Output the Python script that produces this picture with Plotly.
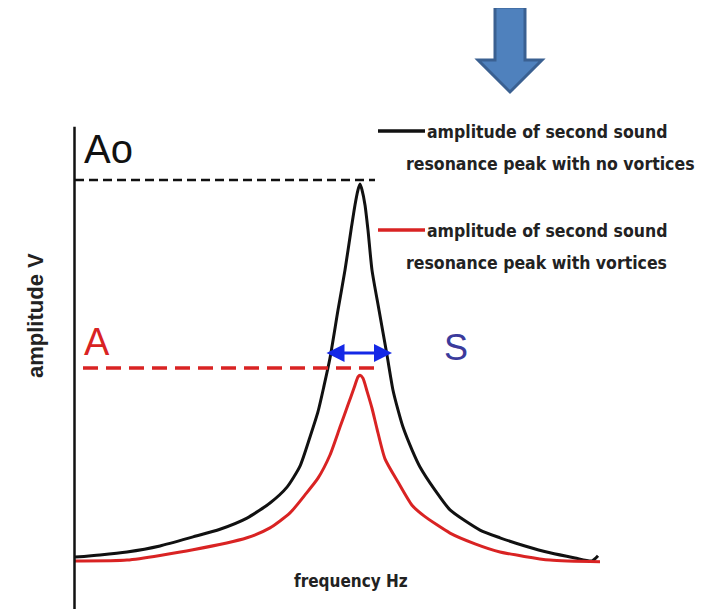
import plotly.graph_objects as go

# ---------------- data ----------------
# frequency (arbitrary units, 0 = amplitude axis) and amplitude (A0 = 100)
freq_no_vortices = [0.1, 2.6, 5.3, 8.6, 11.9, 14.6, 17.3, 19.6, 21.3, 22.6, 23.6, 24.4,
                    25.0, 25.6, 26.4, 27.1, 27.7, 28.1, 28.4, 28.6, 28.8, 29.1, 29.4,
                    29.8, 30.5, 31.3, 31.9, 32.4, 32.9, 33.8, 34.6, 36.1, 37.6, 40.6,
                    42.6, 45.1, 47.6, 50.1, 51.8, 52.4]
amp_no_vortices = [12.1, 12.6, 13.3, 14.7, 16.8, 18.6, 21.2, 24.7, 28.4, 33.3, 40.1, 46.0,
                   52.0, 58.5, 69.7, 79.0, 88.3, 94.2, 97.7, 99.1, 97.7, 94.2, 88.3,
                   79.0, 69.7, 59.2, 51.0, 46.4, 42.4, 37.1, 33.1, 27.7, 23.1, 18.4,
                   16.6, 14.7, 13.1, 11.9, 11.2, 12.4]

freq_vortices = [0.1, 5.3, 11.9, 17.3, 19.6, 21.6, 23.1, 24.4, 25.6, 26.6, 27.4, 28.0,
                 28.4, 28.6, 28.9, 29.3, 29.8, 30.3, 31.1, 32.4, 33.8, 35.0, 37.6, 40.1,
                 42.6, 47.6, 52.6]
amp_vortices = [11.2, 11.4, 13.8, 16.6, 18.9, 22.4, 26.6, 30.5, 35.9, 42.4, 47.6, 51.5,
                54.1, 54.5, 53.8, 50.8, 46.8, 42.0, 35.0, 29.6, 24.2, 21.7, 17.7, 15.2,
                13.3, 11.4, 11.0]

A0_level = 100.0          # peak amplitude, no vortices
A_level = 56.2            # peak amplitude, with vortices
A0_span = [0.1, 30.1]     # extent of the black dashed guide
A_span = [0.9, 30.3]      # extent of the red dashed guide
S_level = 59.7            # height of the width arrow
S_span = [25.1, 31.8]     # width of the black peak at that height
axis_top = 112.4

legend_lines_1 = ["amplitude of second sound", "resonance peak with no vortices"]
legend_lines_2 = ["amplitude of second sound", "resonance peak with vortices"]
x_title = "frequency Hz"
y_title = "amplitude V"

# ---------------- styling ----------------
OFF = 8                     # page body margin of the browser
W, H = 709 - OFF, 609 - OFF  # figure size so it fits the window
X_RANGE = [-6.6, 63.5]
Y_RANGE = [0, 140.1]
BLACK = "#111111"
RED = "#d92323"
BLUE = "#1428e6"
NAVY = "#3b3b9c"
NARROW = "Liberation Sans Narrow, Arial Narrow, DejaVu Sans Condensed, sans-serif"
ARIAL = "Liberation Sans, Arial, sans-serif"


def P(px, py):
    """reference-window pixel -> paper coordinates"""
    return (px - OFF) / W, 1 - (py - OFF) / H


fig = go.Figure()

fig.add_trace(go.Scatter(x=freq_no_vortices, y=amp_no_vortices, mode="lines",
                         line=dict(color=BLACK, width=3, shape="spline", smoothing=0.6),
                         hoverinfo="skip"))
fig.add_trace(go.Scatter(x=freq_vortices, y=amp_vortices, mode="lines",
                         line=dict(color=RED, width=3, shape="spline", smoothing=0.6),
                         hoverinfo="skip"))
fig.add_trace(go.Scatter(x=A0_span, y=[A0_level, A0_level], mode="lines",
                         line=dict(color=BLACK, width=2.5, dash="9px,5px"),
                         hoverinfo="skip"))
fig.add_trace(go.Scatter(x=A_span, y=[A_level, A_level], mode="lines",
                         line=dict(color=RED, width=3.5, dash="15px,8px"),
                         hoverinfo="skip"))
# amplitude axis
fig.add_trace(go.Scatter(x=[0.05, 0.05], y=[0, axis_top], mode="lines",
                         line=dict(color=BLACK, width=2.5), hoverinfo="skip"))

annotations = []
# width arrow S
annotations.append(dict(x=S_span[1], y=S_level, ax=S_span[0], ay=S_level,
                        xref="x", yref="y", axref="x", ayref="y", text="",
                        showarrow=True, arrowside="end+start", arrowhead=2,
                        arrowsize=1.2, arrowwidth=3, arrowcolor=BLUE))


def txt(px, py, text, size, color, family, xanchor="left", angle=0, bold=False):
    x, y = P(px, py)
    t = f"<b>{text}</b>" if bold else text
    annotations.append(dict(x=x, y=y, xref="paper", yref="paper", text=t,
                            showarrow=False, xanchor=xanchor, yanchor="middle",
                            textangle=angle,
                            font=dict(size=size, color=color, family=family)))


txt(82, 149, "Ao", 40, BLACK, ARIAL)
txt(82, 342, "A", 38, RED, ARIAL)
txt(442, 347, "S", 36, NAVY, ARIAL)
txt(425, 132, legend_lines_1[0], 17.5, "#222222", NARROW, bold=True)
txt(404, 164, legend_lines_1[1], 17.5, "#222222", NARROW, bold=True)
txt(425, 231, legend_lines_2[0], 17.5, "#222222", NARROW, bold=True)
txt(404, 263, legend_lines_2[1], 17.5, "#222222", NARROW, bold=True)
txt(351, 581, x_title, 17, "#222222", NARROW, xanchor="center", bold=True)
txt(35, 316, y_title, 22, "#222222", ARIAL, xanchor="center", angle=-90, bold=True)

shapes = []
# legend swatches
for (py, col) in [(131, BLACK), (230, RED)]:
    x0, y0 = P(378, py)
    x1, _ = P(425, py)
    shapes.append(dict(type="line", xref="paper", yref="paper", x0=x0, y0=y0, x1=x1, y1=y0,
                       line=dict(color=col, width=3.5)))

# big down arrow
pts = [(495, 7), (525, 7), (525, 60), (542, 60), (510, 92), (478, 60), (495, 60)]
path = "M " + " L ".join(f"{P(a, b)[0]:.5f},{P(a, b)[1]:.5f}" for a, b in pts) + " Z"
shapes.append(dict(type="path", xref="paper", yref="paper", path=path,
                   fillcolor="#4f81bd", line=dict(color="#3a6091", width=3)))

fig.update_layout(
    width=W, height=H, autosize=False,
    margin=dict(l=0, r=0, t=0, b=0, pad=0),
    paper_bgcolor="white", plot_bgcolor="white",
    showlegend=False,
    xaxis=dict(range=X_RANGE, visible=False, fixedrange=True),
    yaxis=dict(range=Y_RANGE, visible=False, fixedrange=True),
    annotations=annotations,
    shapes=shapes,
)

fig.write_html("out.html", config={"displayModeBar": False})
